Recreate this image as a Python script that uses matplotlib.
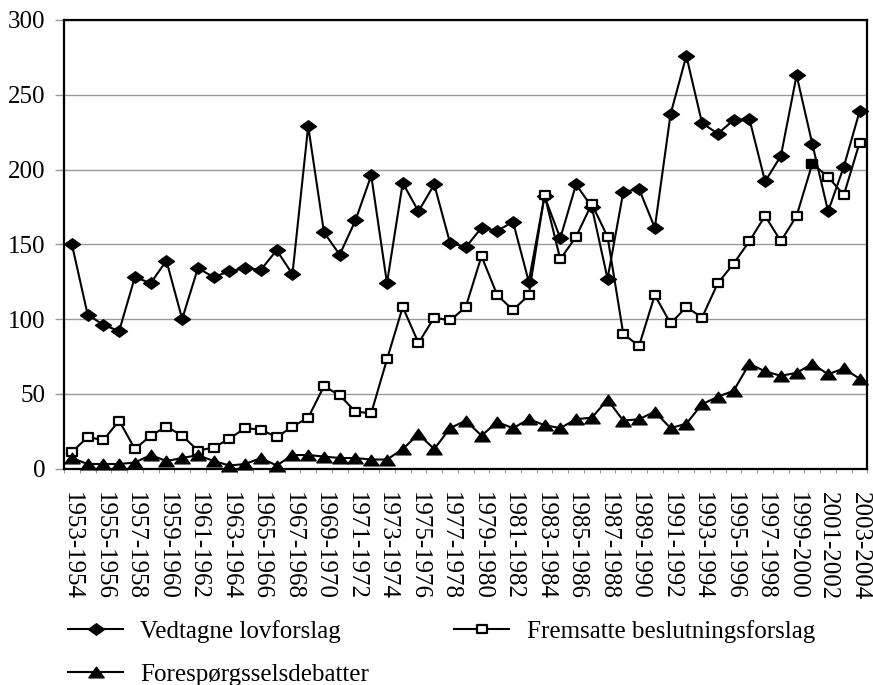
import numpy as np
import matplotlib
matplotlib.use("Agg")
import matplotlib.pyplot as plt
from matplotlib.path import Path

plt.rcParams['font.family'] = ['Liberation Serif', 'DejaVu Serif']

periods = [f"{y}-{y+1}" for y in range(1953, 2004)]

vedtagne = [150, 103, 96, 92, 128, 124, 139, 100, 134, 128, 132, 134, 133, 146, 130,
            229, 158, 143, 166, 196, 124, 191, 172, 190, 151, 148, 161, 159, 165, 125,
            182, 154, 190, 175, 127, 185, 187, 161, 237, 276, 231, 224, 233, 234, 192,
            209, 263, 217, 172, 202, 239]

fremsatte = [11, 21, 19, 32, 13, 22, 28, 22, 12, 14, 20, 27, 26, 21, 28,
             34, 55, 49, 38, 37, 73, 108, 84, 101, 99, 108, 142, 116, 106, 116,
             183, 140, 155, 177, 155, 90, 82, 116, 97, 108, 101, 124, 137, 152, 169,
             152, 169, 204, 195, 183, 218]

foresp = [7, 3, 3, 3, 4, 9, 5, 7, 9, 5, 2, 3, 7, 2, 9,
          9, 8, 7, 7, 6, 6, 13, 23, 13, 27, 32, 22, 31, 27, 33,
          29, 27, 33, 34, 46, 32, 33, 38, 27, 30, 43, 48, 52, 70, 65,
          62, 64, 70, 63, 67, 60]

labels = ["Vedtagne lovforslag", "Fremsatte beslutningsforslag", "Forespørgsselsdebatter"]

diamond = Path([(-1, 0), (0, 0.72), (1, 0), (0, -0.72), (-1, 0)],
               [Path.MOVETO, Path.LINETO, Path.LINETO, Path.LINETO, Path.CLOSEPOLY])
rect = Path([(-1, -0.78), (1, -0.78), (1, 0.78), (-1, 0.78), (-1, -0.78)],
            [Path.MOVETO, Path.LINETO, Path.LINETO, Path.LINETO, Path.CLOSEPOLY])
tri = Path([(0, 0.7), (1, -0.7), (-1, -0.7), (0, 0.7)],
           [Path.MOVETO, Path.LINETO, Path.LINETO, Path.CLOSEPOLY])

fig = plt.figure(figsize=(8.73, 6.85), dpi=100)
ax = fig.add_axes([64/873, 1-468.5/685, (867.5-64)/873, (468.5-20)/685])

x = np.arange(len(periods))
fs = 18

l1, = ax.plot(x, vedtagne, color='black', lw=1.5, marker=diamond, ms=11.5,
              mfc='black', mec='black', mew=1, label=labels[0], zorder=3, clip_on=False)
l2, = ax.plot(x, fremsatte, color='black', lw=1.5, marker=rect, ms=7,
              mfc='white', mec='black', mew=1.6, label=labels[1], zorder=4, clip_on=False)
ax.plot(x[47], fremsatte[47], marker=rect, ms=7, mfc='black', mec='black',
        mew=1.6, ls='none', zorder=5)
l3, = ax.plot(x, foresp, color='black', lw=1.5, marker=tri, ms=11,
              mfc='black', mec='black', mew=1, label=labels[2], zorder=5, clip_on=False)

ax.set_xlim(-0.5, len(periods) - 0.5)
ax.set_ylim(0, 300)
ax.set_yticks(np.arange(0, 301, 50))
ax.yaxis.grid(True, color='#9a9a9a', lw=1)
ax.set_axisbelow(True)
ax.tick_params(axis='y', which='major', length=6.5, width=1, color='#9a9a9a',
               pad=7, labelsize=fs)

ax.set_xticks(np.arange(-0.5, len(periods), 1))
ax.set_xticklabels([])
ax.tick_params(axis='x', which='major', length=3, width=0.8, color='#9a9a9a')
ax.set_xticks(x[::2], minor=True)
ax.set_xticklabels(periods[::2], minor=True, rotation=-90, fontsize=fs,
                   va='top', ha='center')
ax.tick_params(axis='x', which='minor', length=0, pad=17)

for s in ax.spines.values():
    s.set_color('black')
    s.set_linewidth(1.6)

leg = fig.legend(handles=[l1, l3, l2], labels=[labels[0], labels[2], labels[1]],
                 ncol=2, loc='upper left', bbox_to_anchor=(68/873, 1-620/685),
                 frameon=False, fontsize=fs, handlelength=2.2, handletextpad=0.7,
                 columnspacing=3.4, labelspacing=0.82, borderpad=0, borderaxespad=0)

fig.savefig("out.png", dpi=100, facecolor='white')
